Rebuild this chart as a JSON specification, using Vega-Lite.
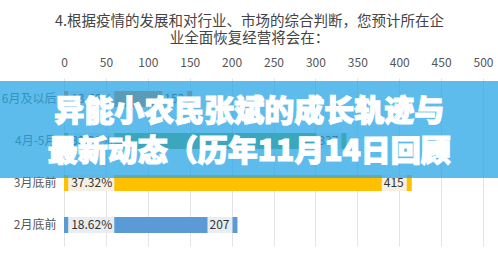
{
  "$schema": "https://vega.github.io/schema/vega-lite/v6.json",
  "width": 419,
  "height": 168,
  "autosize": {"type": "none"},
  "padding": {"left": 64, "top": 78, "right": 15, "bottom": 15},
  "background": "white",
  "title": {
    "text": ["4.根据疫情的发展和对行业、市场的综合判断，您预计所在企", "业全面恢复经营将会在："],
    "font": "Noto Sans CJK SC",
    "fontSize": 14.5,
    "fontWeight": "normal",
    "color": "#444444",
    "lineHeight": 17,
    "anchor": "middle",
    "dx": -24,
    "offset": 10
  },
  "config": {
    "view": {"stroke": null},
    "font": "Noto Sans CJK SC"
  },
  "data": {
    "values": [
      {"option": "6月及以后", "count": 153, "pct": "13.76%"},
      {"option": "4月-5月", "count": 337, "pct": "30.31%"},
      {"option": "3月底前", "count": 415, "pct": "37.32%"},
      {"option": "2月底前", "count": 207, "pct": "18.62%"}
    ]
  },
  "encoding": {
    "y": {
      "field": "option",
      "type": "nominal",
      "sort": ["6月及以后", "4月-5月", "3月底前", "2月底前"],
      "scale": {"paddingInner": 0.62, "paddingOuter": 0.31},
      "axis": {
        "title": null,
        "ticks": false,
        "domain": false,
        "labelFontSize": 12,
        "labelColor": "#555555",
        "labelPadding": 8,
        "labelFont": "Noto Sans CJK SC"
      }
    }
  },
  "layer": [
    {
      "mark": {"type": "bar"},
      "encoding": {
        "x": {
          "field": "count",
          "type": "quantitative",
          "scale": {"domain": [0, 500], "nice": false},
          "axis": {
            "orient": "top",
            "title": null,
            "values": [0, 50, 100, 150, 200, 250, 300, 350, 400, 450, 500],
            "grid": true,
            "gridColor": "#e4e4e4",
            "ticks": false,
            "domain": false,
            "labelFontSize": 12,
            "labelColor": "#555555",
            "labelPadding": 9,
            "labelFlush": false
          }
        },
        "color": {
          "field": "option",
          "type": "nominal",
          "scale": {
            "domain": ["6月及以后", "4月-5月", "3月底前", "2月底前"],
            "range": ["#ed7d31", "#70ad47", "#ffc000", "#5b9bd5"]
          },
          "legend": null
        }
      }
    },
    {
      "mark": {"type": "rect", "fill": "#f4f4f4", "opacity": 0.92},
      "encoding": {
        "x": {"datum": 5, "type": "quantitative"},
        "x2": {"datum": 60}
      }
    },
    {
      "mark": {"type": "text", "align": "left", "baseline": "middle", "fontSize": 12, "color": "#333333", "dx": 3},
      "encoding": {
        "x": {"datum": 5, "type": "quantitative"},
        "text": {"field": "pct"}
      }
    },
    {
      "mark": {"type": "rect", "fill": "#f4f4f4", "opacity": 0.92, "xOffset": -30, "x2Offset": -5},
      "encoding": {
        "x": {"field": "count", "type": "quantitative"},
        "x2": {"field": "count"}
      }
    },
    {
      "mark": {"type": "text", "align": "right", "baseline": "middle", "fontSize": 12, "color": "#333333", "dx": -8},
      "encoding": {
        "x": {"field": "count", "type": "quantitative"},
        "text": {"field": "count"}
      }
    },
    {
      "data": {"values": [{"banner": "overlay"}]},
      "mark": {"type": "rect", "fill": "#28a6e6", "opacity": 0.75},
      "encoding": {
        "x": {"datum": -77, "type": "quantitative"},
        "x2": {"datum": 520},
        "y": {"datum": "6月及以后", "bandPosition": -0.625},
        "y2": {"datum": "3月底前", "bandPosition": 0.1875}
      }
    },
    {
      "data": {"values": [{"line": "异能小农民张斌的成长轨迹与"}]},
      "mark": {"type": "text", "align": "center", "baseline": "middle", "fontSize": 30, "fontWeight": 900, "color": "white", "stroke": "white", "strokeWidth": 1.2, "font": "Noto Sans CJK SC"},
      "encoding": {
        "x": {"datum": 221, "type": "quantitative"},
        "y": {"datum": "6月及以后", "bandPosition": 1.3125},
        "text": {"field": "line"}
      }
    },
    {
      "data": {"values": [{"line": "最新动态（历年11月14日回顾"}]},
      "mark": {"type": "text", "align": "center", "baseline": "middle", "fontSize": 30, "fontWeight": 900, "color": "white", "stroke": "white", "strokeWidth": 1.2, "font": "Noto Sans CJK SC"},
      "encoding": {
        "x": {"datum": 221, "type": "quantitative"},
        "y": {"datum": "4月-5月", "bandPosition": 1.1875},
        "text": {"field": "line"}
      }
    }
  ]
}
